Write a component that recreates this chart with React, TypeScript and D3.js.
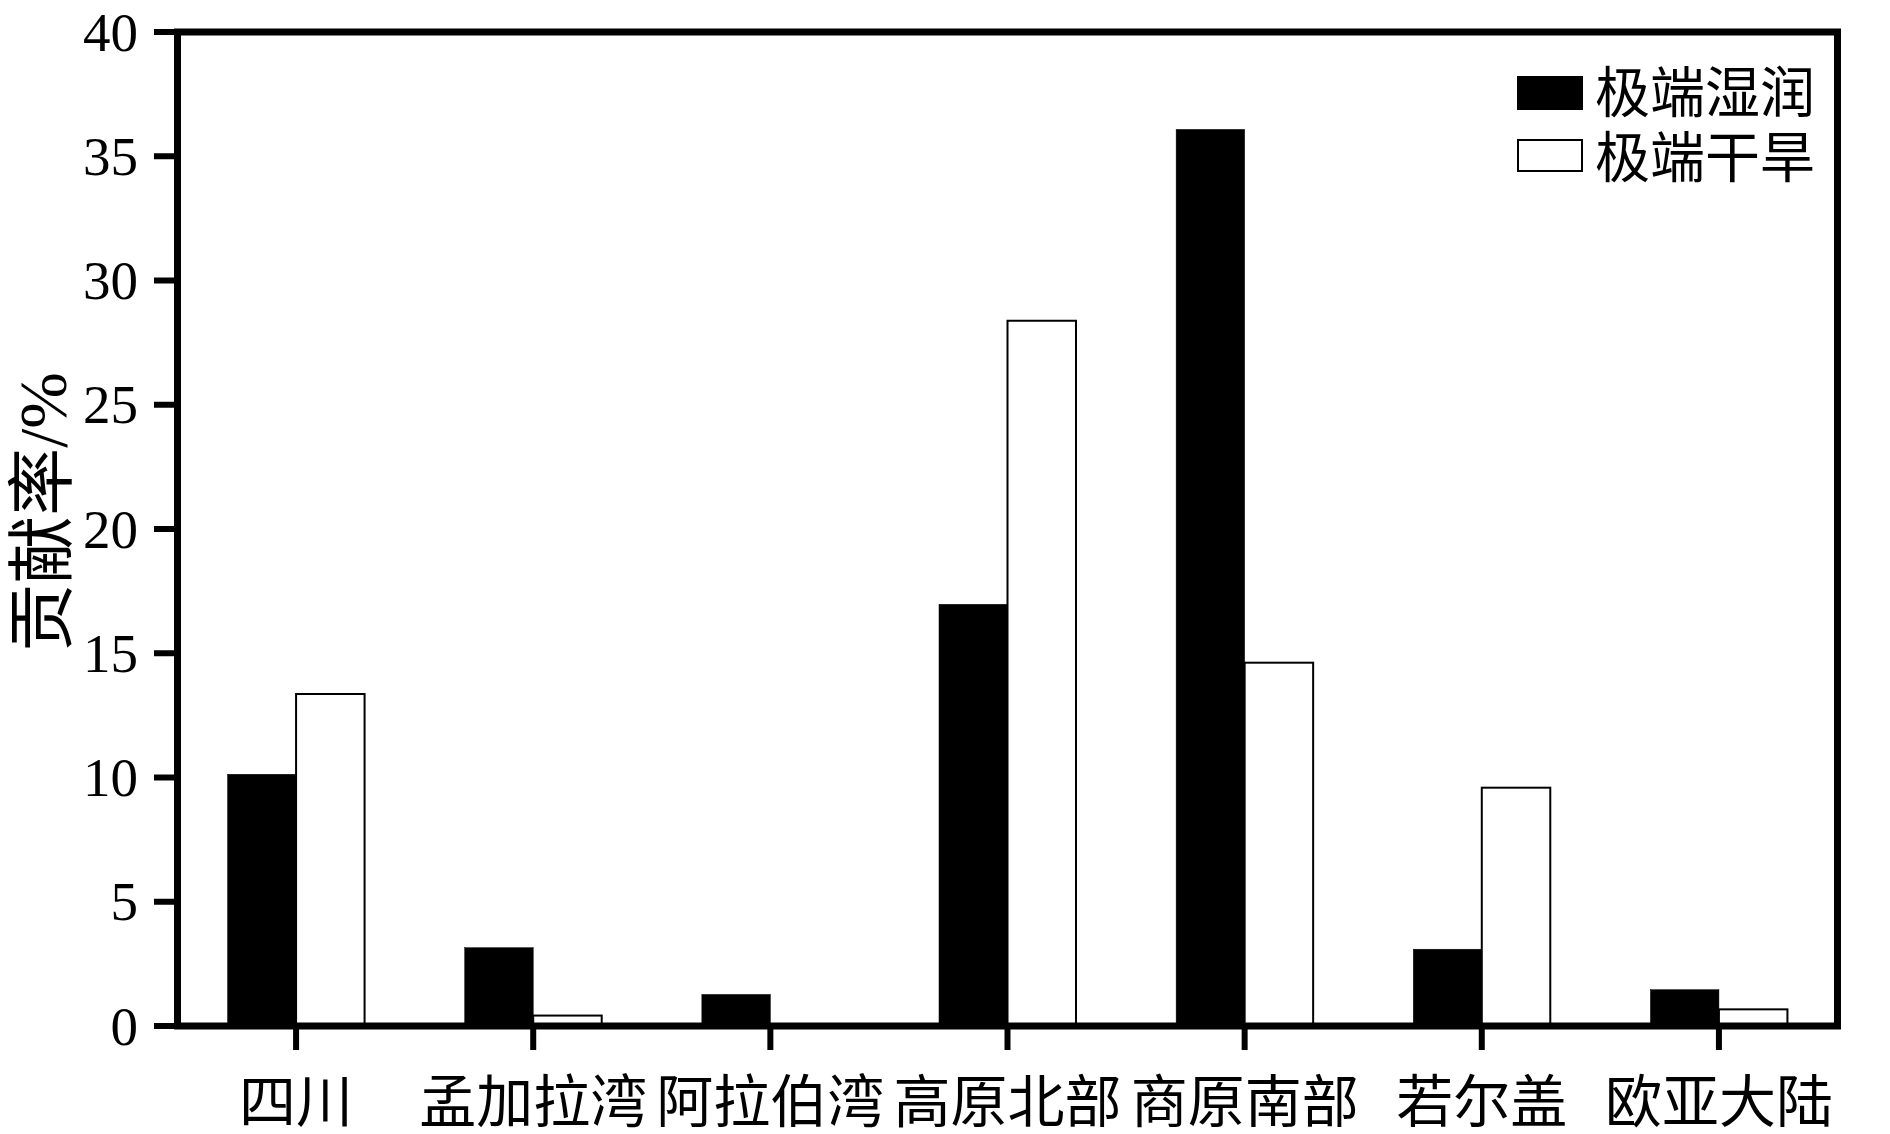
import React from "react";
import * as d3 from "d3";

const categories = ["四川", "孟加拉湾", "阿拉伯湾", "高原北部", "商原南部", "若尔盖", "欧亚大陆"];
const wetValues = [10.13, 3.15, 1.27, 16.97, 36.08, 3.09, 1.46];
const dryValues = [13.36, 0.42, 0, 28.38, 14.62, 9.59, 0.67];
const seriesNames = ["极端湿润", "极端干旱"];
const yTicks = [0, 5, 10, 15, 20, 25, 30, 35, 40];

const W = 1890;
const H = 1134;
const left = 177.5;
const right = 1837.5;
const top = 32;
const bottom = 1026;
const FONT = "'Liberation Serif', 'Times New Roman', 'Noto Sans CJK SC', serif";

export default function App() {
  const x0 = d3.scaleBand<string>().domain(categories).range([left, right]).paddingInner(0).paddingOuter(0);
  const x1 = d3.scaleBand<string>().domain(seriesNames).range([0, x0.bandwidth()]).paddingInner(0).paddingOuter(0.731);
  const y = d3.scaleLinear().domain([0, 40]).range([bottom, top]);

  const bars: React.ReactNode[] = [];
  categories.forEach((c, i) => {
    const vals = [wetValues[i], dryValues[i]];
    vals.forEach((v, j) => {
      if (v <= 0) return;
      const bx = (x0(c) as number) + (x1(seriesNames[j]) as number);
      const by = y(v);
      bars.push(
        <rect
          key={c + j}
          x={bx}
          y={by}
          width={x1.bandwidth()}
          height={bottom - by}
          fill={j === 0 ? "#000" : "#fff"}
          stroke="#000"
          strokeWidth={j === 0 ? 0.5 : 2}
        />
      );
    });
  });

  return (
    <svg width={W} height={H} style={{ position: "absolute", left: 0, top: 0, background: "#fff" }} fontFamily={FONT}>
      <rect x={0} y={0} width={W} height={H} fill="#fff" />
      {bars}
      {/* frame */}
      <rect x={left} y={top} width={right - left} height={bottom - top} fill="none" stroke="#000" strokeWidth={7} />
      {/* y ticks */}
      {yTicks.map((t) => (
        <g key={t}>
          <line x1={154} x2={left} y1={y(t)} y2={y(t)} stroke="#000" strokeWidth={6} />
          <text x={138} y={y(t)} dy="0.34em" textAnchor="end" fontSize={55} fill="#000">
            {t}
          </text>
        </g>
      ))}
      {/* x ticks */}
      {categories.map((c) => {
        const cx = (x0(c) as number) + x0.bandwidth() / 2;
        return (
          <g key={c}>
            <line x1={cx} x2={cx} y1={bottom} y2={bottom + 24} stroke="#000" strokeWidth={6} />
            <text x={cx} y={1101} dy="0.36em" textAnchor="middle" fontSize={57} fill="#000">
              {c}
            </text>
          </g>
        );
      })}
      {/* y label */}
      <text transform={`translate(42,512) rotate(-90)`} textAnchor="middle" dy="0.36em" fontSize={68} fill="#000">
        贡献率/%
      </text>
      {/* legend */}
      <rect x={1517} y={76} width={66} height={34} fill="#000" />
      <text x={1595} y={92} dy="0.36em" fontSize={55} fill="#000">{seriesNames[0]}</text>
      <rect x={1518} y={140} width={64} height={31} fill="#fff" stroke="#000" strokeWidth={2} />
      <text x={1595} y={157} dy="0.36em" fontSize={55} fill="#000">{seriesNames[1]}</text>
    </svg>
  );
}
